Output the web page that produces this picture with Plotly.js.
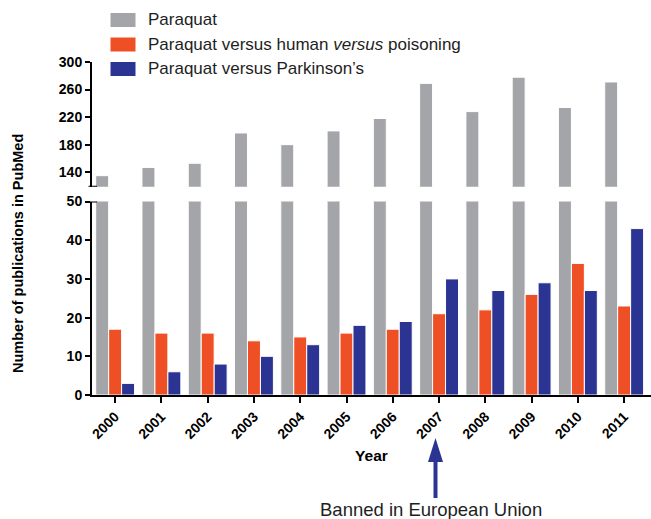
<!DOCTYPE html>
<html>
<head>
<meta charset="utf-8">
<script src="https://cdn.plot.ly/plotly-3.0.1.min.js"></script>
<style>html,body{margin:0;padding:0;background:#fff;}#chart{width:651px;height:519px;}</style>
</head>
<body>
<div id="chart"></div>
<script>
// ---- data ----
var years = ['2000','2001','2002','2003','2004','2005','2006','2007','2008','2009','2010','2011'];
var paraquat = [135, 147, 153, 197, 180, 200, 218, 269, 228, 278, 234, 271];
var humanPoisoning = [17, 16, 16, 14, 15, 16, 17, 21, 22, 26, 34, 23];
var parkinsons = [3, 6, 8, 10, 13, 18, 19, 30, 27, 29, 27, 43];
var seriesNames = ['Paraquat', 'Paraquat versus human <i>versus</i> poisoning', 'Paraquat versus Parkinson\u2019s'];
var lowerTicks = [0, 10, 20, 30, 40, 50];
var upperTicks = [140, 180, 220, 260, 300];

// ---- styling ----
var W = 651, H = 519;
var M = {l: 92, r: 0, t: 62, b: 124};
var PW = W - M.l - M.r, PH = H - M.t - M.b;
function px(x){ return (x - M.l) / PW; }
function py(y){ return (H - M.b - y) / PH; }
var colors = ['#a3a5a9', '#ef4f24', '#2b3492'];
var FONT = 'Liberation Sans, Arial, Helvetica, sans-serif';
var series = [paraquat, humanPoisoning, parkinsons];

var traces = [];
['y', 'y2'].forEach(function(ya){
  series.forEach(function(vals, i){
    traces.push({
      type: 'bar', x: years, y: vals, name: seriesNames[i],
      xaxis: 'x', yaxis: ya, showlegend: false,
      marker: {color: colors[i], line: {color: '#ffffff', width: 1}},
      hoverinfo: 'x+y+name'
    });
  });
});

var shapes = [];
var annotations = [];
// custom legend
var rowsY = [20, 44.5, 69];
rowsY.forEach(function(cy, i){
  shapes.push({type: 'rect', xref: 'paper', yref: 'paper',
    x0: px(110.5), x1: px(135.5), y0: py(cy - 7), y1: py(cy + 7),
    fillcolor: colors[i], line: {width: 0}});
  annotations.push({xref: 'paper', yref: 'paper', x: px(146), y: py(cy),
    xanchor: 'left', yanchor: 'middle', showarrow: false, text: seriesNames[i],
    font: {family: FONT, size: 17, color: '#1e1e1e'}});
});
// axis break caps
shapes.push({type: 'line', xref: 'paper', yref: 'y2', x0: px(88.5), x1: px(97), y0: 119, y1: 119,
  line: {color: '#000', width: 2}});
shapes.push({type: 'line', xref: 'paper', yref: 'y', x0: px(88.5), x1: px(97), y0: 50, y1: 50,
  line: {color: '#000', width: 2}});
// arrow
shapes.push({type: 'line', xref: 'paper', yref: 'paper', x0: px(435.5), x1: px(435.5), y0: py(460), y1: py(498),
  line: {color: colors[2], width: 4}});
shapes.push({type: 'path', xref: 'paper', yref: 'paper',
  path: 'M ' + px(428) + ' ' + py(462) + ' L ' + px(443) + ' ' + py(462) + ' L ' + px(435.5) + ' ' + py(438) + ' Z',
  fillcolor: colors[2], line: {width: 0}});

annotations.push({xref: 'paper', yref: 'paper', x: px(431), y: py(509), xanchor: 'center', yanchor: 'middle',
  showarrow: false, text: 'Banned in European Union', font: {family: FONT, size: 18.5, color: '#1e1e1e'}});
annotations.push({xref: 'paper', yref: 'paper', x: px(18), y: py(254), xanchor: 'center', yanchor: 'middle',
  textangle: -90, showarrow: false, text: '<b>Number of publications in PubMed</b>',
  font: {family: FONT, size: 14.5, color: '#000'}});

var axisCommon = {
  showgrid: false, zeroline: false, showline: true, linecolor: '#000', linewidth: 2,
  ticks: 'outside', ticklen: 5, tickwidth: 2, tickcolor: '#000',
  tickfont: {family: FONT, size: 14, color: '#000', weight: 'bold'}, fixedrange: true
};

var layout = {
  width: W, height: H, margin: M,
  paper_bgcolor: '#fff', plot_bgcolor: '#fff',
  barmode: 'group', bargap: 0.16, bargroupgap: 0,
  showlegend: false,
  font: {family: FONT, color: '#000'},
  xaxis: Object.assign({}, axisCommon, {
    type: 'category', range: [-0.5, 11.58], anchor: 'y', ticklen: 6,
    tickangle: -45, tickfont: {family: FONT, size: 14, color: '#000', weight: 'bold'},
    title: {text: 'Year', font: {family: FONT, size: 15.5, color: '#000', weight: 'bold'}, standoff: 9}
  }),
  yaxis: Object.assign({}, axisCommon, {
    domain: [0, py(201.5)], range: [0, 50], tickvals: lowerTicks, anchor: 'x'
  }),
  yaxis2: Object.assign({}, axisCommon, {
    domain: [py(186.7), 1], range: [119, 300], tickvals: upperTicks, anchor: 'x'
  }),
  shapes: shapes,
  annotations: annotations
};

Plotly.newPlot('chart', traces, layout, {displayModeBar: false, staticPlot: true});
</script>
</body>
</html>
